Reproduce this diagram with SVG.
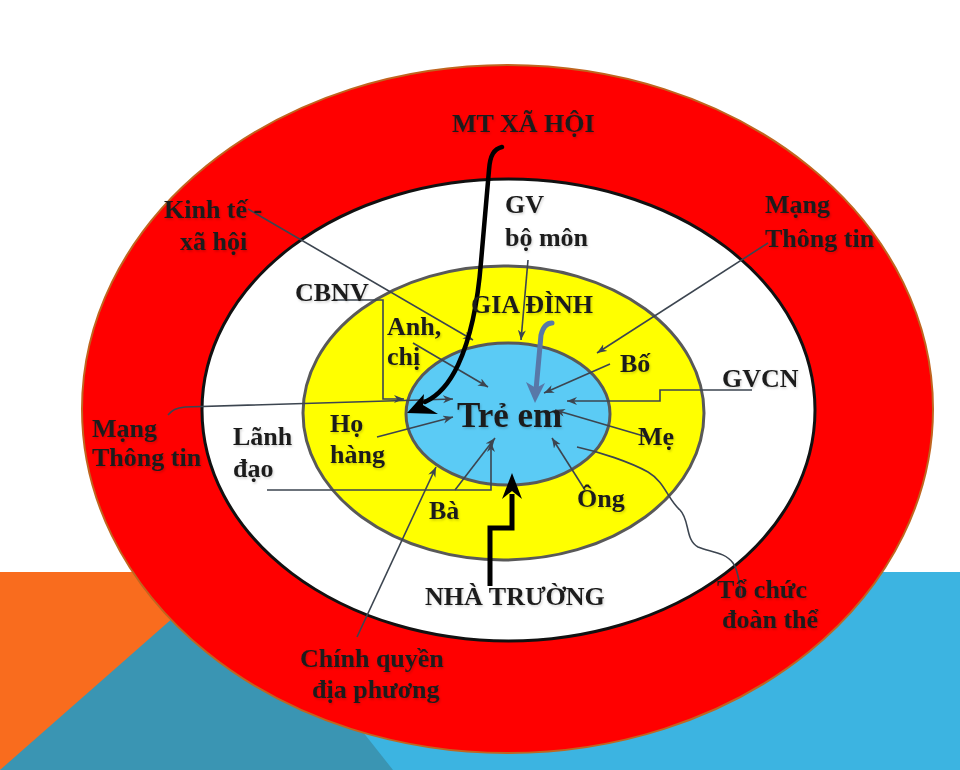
<svg xmlns="http://www.w3.org/2000/svg" width="960" height="770" viewBox="0 0 960 770">
<defs>
<style>
.t{font-family:"Liberation Serif","Times New Roman",serif;font-weight:bold;font-size:26px;fill:#1c1c1c;filter:url(#sh)}
.c{fill:none;stroke:#3c4550;stroke-width:1.6}
.ca{fill:none;stroke:#3c4550;stroke-width:1.6;marker-end:url(#ah)}
</style>
<filter id="sh" x="-10%" y="-20%" width="130%" height="150%">
<feDropShadow dx="1" dy="1.5" stdDeviation="1" flood-color="#000" flood-opacity="0.18"/>
</filter>
<marker id="ah" markerUnits="userSpaceOnUse" markerWidth="12" markerHeight="10" refX="10" refY="4" orient="auto">
<path d="M0,0 L10,4 L0,8 L3,4 z" fill="#3c4550"/>
</marker>
</defs>
<rect width="960" height="770" fill="#ffffff"/>
<g id="background">
<rect x="0" y="572" width="960" height="198" fill="#3cb4e1"/>
<polygon points="0,572 420,572 0,770" fill="#f96c1e"/>
<polygon points="0,770 232,566 393,770" fill="#3a95b3"/>
</g>
<g id="ring-mt-xa-hoi">
<ellipse cx="507.5" cy="409" rx="425.5" ry="344" fill="#ff0000" stroke="#c0651f" stroke-width="2"/>
</g>
<g id="ring-nha-truong">
<ellipse cx="508.5" cy="410" rx="306.5" ry="231" fill="#ffffff" stroke="#111111" stroke-width="3"/>
</g>
<g id="ring-gia-dinh">
<ellipse cx="503.5" cy="413" rx="200.5" ry="147" fill="#ffff00" stroke="#595959" stroke-width="3"/>
</g>
<g id="core-tre-em">
<ellipse cx="508" cy="414" rx="102" ry="71" fill="#5bcbf5" stroke="#595959" stroke-width="3"/>
</g>
<g id="connectors">
<path class="ca" d="M248,209 L473,340"/>
<path class="ca" d="M528,260 L521,340"/>
<path class="ca" d="M768,243 L597,353"/>
<path class="ca" d="M610,364 L544,393"/>
<path class="ca" d="M752,390 L660,390 L660,401 L567,401"/>
<path class="ca" d="M647,437 L555,410"/>
<path class="ca" d="M585,490 L552,438"/>
<path class="c" d="M577,447 C600,452 630,462 648,472 C665,482 668,500 680,510 C690,520 685,540 698,547 C710,552 725,552 733,563 C738,570 740,585 741,598"/>
<path class="ca" d="M357,637 L436,467"/>
<path class="ca" d="M455,490 L495,438"/>
<path class="ca" d="M267,490 L491,490 L491,442"/>
<path class="ca" d="M377,437 L453,417"/>
<path class="ca" d="M413,343 L488,387"/>
<path class="ca" d="M333,300 L383,300 L383,399 L404,399"/>
<path class="ca" d="M168,415 C172,410 176,408 185,407 L453,399"/>
<path d="M502,147 C494,149 490,155 489,170 L481,262 C478,300 472,335 458,365 C450,382 440,395 425,402" fill="none" stroke="#000" stroke-width="4.5" stroke-linecap="round"/>
<polygon points="407,413 424,394 423,405 438,414" fill="#000"/>
<path d="M490,586 L490,528 L512,528 L512,494" fill="none" stroke="#000" stroke-width="5"/>
<polygon points="512,473 502,499 512,491 522,499" fill="#000"/>
<path d="M552,323 Q544,323 541,335 L536,390" fill="none" stroke="#5878a8" stroke-width="5" stroke-linecap="round"/>
<polygon points="535,403 526,382 536,388 545,383" fill="#5878a8"/>
</g>
<g id="label-mt-xa-hoi"><text class="t" x="452" y="132">MT XÃ HỘI</text></g>
<g id="label-kinh-te"><text class="t" x="164" y="218">Kinh tế -</text><text class="t" x="180" y="250">xã hội</text></g>
<g id="label-gv-bo-mon"><text class="t" x="505" y="213">GV</text><text class="t" x="505" y="246">bộ môn</text></g>
<g id="label-mang-thong-tin-right"><text class="t" x="765" y="213">Mạng</text><text class="t" x="765" y="247">Thông tin</text></g>
<g id="label-gia-dinh"><text class="t" x="471" y="313">GIA ĐÌNH</text></g>
<g id="label-cbnv"><text class="t" x="295" y="301">CBNV</text></g>
<g id="label-anh-chi"><text class="t" x="387" y="335">Anh,</text><text class="t" x="387" y="365">chị</text></g>
<g id="label-bo"><text class="t" x="620" y="372">Bố</text></g>
<g id="label-gvcn"><text class="t" x="722" y="387">GVCN</text></g>
<g id="label-mang-thong-tin-left"><text class="t" x="92" y="437">Mạng</text><text class="t" x="92" y="466">Thông tin</text></g>
<g id="label-lanh-dao"><text class="t" x="233" y="445">Lãnh</text><text class="t" x="233" y="477">đạo</text></g>
<g id="label-ho-hang"><text class="t" x="330" y="432">Họ</text><text class="t" x="330" y="463">hàng</text></g>
<g id="label-tre-em"><text class="t" x="457" y="427" style="font-size:35px">Trẻ em</text></g>
<g id="label-me"><text class="t" x="638" y="445">Mẹ</text></g>
<g id="label-ba"><text class="t" x="429" y="519">Bà</text></g>
<g id="label-ong"><text class="t" x="577" y="507">Ông</text></g>
<g id="label-nha-truong"><text class="t" x="425" y="605">NHÀ TRƯỜNG</text></g>
<g id="label-to-chuc"><text class="t" x="717" y="598">Tổ chức</text><text class="t" x="722" y="628">đoàn thể</text></g>
<g id="label-chinh-quyen"><text class="t" x="300" y="667">Chính quyền</text><text class="t" x="312" y="698">địa phương</text></g>
</svg>
